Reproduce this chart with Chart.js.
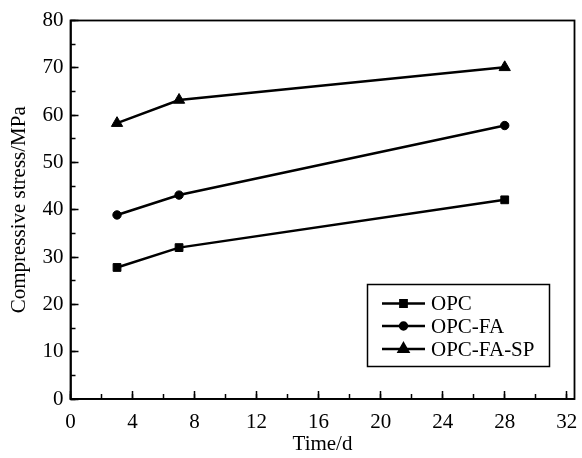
<!DOCTYPE html>
<html><head><meta charset="utf-8">
<script src="https://cdn.jsdelivr.net/npm/chart.js@4/dist/chart.umd.min.js"></script>
<style>html,body{margin:0;padding:0;background:#fff}#wrap{width:582px;height:458px;position:relative}</style>
</head><body><div id="wrap"><canvas id="c"></canvas></div>
<script>
const days = [3, 7, 28];
const seriesNames = ['OPC', 'OPC-FA', 'OPC-FA-SP'];
const opc = [27.8, 32.0, 42.1];
const opcFa = [38.9, 43.1, 57.8];
const opcFaSp = [58.3, 63.2, 70.1];
const xTicks = [0, 4, 8, 12, 16, 20, 24, 28, 32];
const yTicks = [0, 10, 20, 30, 40, 50, 60, 70, 80];
const xTitle = 'Time/d';
const yTitle = 'Compressive stress/MPa';

const FONT = '"Liberation Serif", "Times New Roman", serif';
const styles = ['rect', 'circle', 'triangle'];
const radii = [5.5, 4.2, 6.5];
const legendRadii = [4.5, 3.5, 5.5];

function toPoints(vals) { return days.map((d, i) => ({x: d, y: vals[i]})); }

const frame = {
  id: 'frame',
  beforeDatasetsDraw(chart) {
    const a = chart.chartArea, ctx = chart.ctx;
    ctx.save();
    ctx.strokeStyle = '#000'; ctx.lineWidth = 1.8;
    ctx.strokeRect(a.left, a.top, a.right - a.left, a.bottom - a.top);
    ctx.restore();
  }
};

const legendBox = {
  id: 'legendBox',
  afterDraw(chart) {
    const ctx = chart.ctx;
    ctx.save();
    ctx.fillStyle = '#fff';
    ctx.fillRect(367.5, 284.5, 182, 82);
    ctx.strokeStyle = '#000'; ctx.lineWidth = 1.5;
    ctx.strokeRect(367.5, 284.5, 182, 82);
    const rows = [303.5, 326, 349];
    chart.data.datasets.forEach((ds, i) => {
      const y = rows[i];
      ctx.strokeStyle = '#000'; ctx.fillStyle = '#000';
      ctx.lineWidth = 2.4;
      ctx.beginPath(); ctx.moveTo(382, y); ctx.lineTo(425, y); ctx.stroke();
      Chart.helpers.drawPoint(ctx, {pointStyle: ds.pointStyle, rotation: 0, radius: legendRadii[i], borderWidth: 1}, 403.5, y);
      ctx.font = '21px ' + FONT;
      ctx.textBaseline = 'middle'; ctx.textAlign = 'left';
      ctx.fillText(ds.label, 431, y + 1);
    });
    ctx.restore();
  }
};

function mkDs(label, vals, i) {
  return {
    label: label, data: toPoints(vals),
    borderColor: '#000', backgroundColor: '#000', borderWidth: 2.5,
    pointStyle: styles[i], pointRadius: radii[i], pointBorderWidth: 1,
    pointBackgroundColor: '#000', pointBorderColor: '#000', tension: 0
  };
}

new Chart(document.getElementById('c'), {
  type: 'line',
  data: { datasets: [mkDs(seriesNames[0], opc, 0), mkDs(seriesNames[1], opcFa, 1), mkDs(seriesNames[2], opcFaSp, 2)] },
  options: {
    responsive: true, maintainAspectRatio: false, animation: false,
    layout: { padding: { top: 20.5, right: 2, bottom: 0, left: 0 } },
    plugins: { legend: { display: false }, tooltip: { enabled: false } },
    scales: {
      x: {
        type: 'linear', position: 'bottom', min: 0, max: 32.5, weight: 1,
        afterBuildTicks: s => { s.ticks = xTicks.map(v => ({value: v})); },
        afterFit: s => { s.height = 59; s.paddingLeft = 0; s.paddingRight = 0; },
        ticks: { color: '#000', font: { family: FONT, size: 21 }, padding: 19, maxRotation: 0, autoSkip: false },
        grid: { drawOnChartArea: false, tickLength: -8, tickWidth: 1.5, tickColor: '#000' },
        border: { display: true, color: '#000', width: 1.8 },
        title: { display: true, text: xTitle, color: '#000', font: { family: FONT, size: 21 }, padding: { top: 0, bottom: 1 } }
      },
      xMinor: {
        type: 'linear', position: 'bottom', min: 0, max: 32.5, weight: 0,
        afterFit: s => { s.height = 0; s.paddingLeft = 0; s.paddingRight = 0; },
        ticks: { display: false, stepSize: 2, includeBounds: false },
        grid: { drawOnChartArea: false, tickLength: -5, tickWidth: 1.5, tickColor: '#000' },
        border: { display: false }
      },
      y: {
        type: 'linear', position: 'left', min: 0, max: 80, weight: 1,
        afterBuildTicks: s => { s.ticks = yTicks.map(v => ({value: v})); },
        afterFit: s => { s.width = 70.5; s.paddingTop = 0; s.paddingBottom = 0; },
        ticks: { color: '#000', font: { family: FONT, size: 21 }, padding: 15 },
        grid: { drawOnChartArea: false, tickLength: -8, tickWidth: 1.5, tickColor: '#000' },
        border: { display: true, color: '#000', width: 1.8 },
        title: { display: true, text: yTitle, color: '#000', font: { family: FONT, size: 21 }, padding: { top: 7, bottom: 0 } }
      },
      yMinor: {
        type: 'linear', position: 'left', min: 0, max: 80, weight: 0,
        afterFit: s => { s.width = 0; s.paddingTop = 0; s.paddingBottom = 0; },
        ticks: { display: false, stepSize: 5 },
        grid: { drawOnChartArea: false, tickLength: -5, tickWidth: 1.5, tickColor: '#000' },
        border: { display: false }
      }
    }
  },
  plugins: [frame, legendBox]
});
</script>
</body></html>
